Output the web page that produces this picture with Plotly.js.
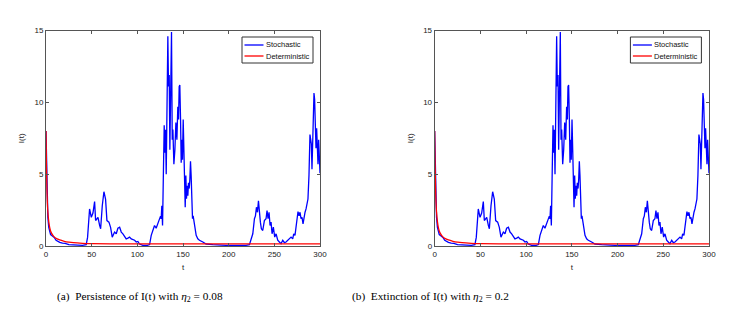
<!DOCTYPE html>
<html>
<head>
<meta charset="utf-8">
<script src="https://cdn.plot.ly/plotly-3.0.1.min.js"></script>
<style>html,body{margin:0;padding:0;background:#fff;}#chart{width:735px;height:312px;}</style>
</head>
<body>
<div id="chart"></div>
<script>
// ---- data ----
var tStoch = [0,1,2,3,4,5,7,9,11,13,15,18,21,25,30,35,40,44,45.5,
47.7,49.6,51.4,53.2,54.3,56.9,58.7,59.8,61.6,63.4,65.2,66.7,68.9,70.7,72.5,75.1,
76.9,78.7,80.6,82.4,84.2,86,87.8,89.7,91.5,93.3,95.1,97,98.8,100.6,102.4,106,
111,113.4,115.2,117,118.8,120.6,122.5,124.3,125.4,126.1,126.8,127.6,128.7,129.4,130.1,130.9,
131.6,132.7,133.4,134.1,134.9,135.6,136.7,137.4,138.2,138.9,140,141.1,142.2,143.3,144.3,145.1,
145.8,146.5,147.3,148,148.7,149.4,150.2,150.9,151.6,152.4,153.1,153.8,154.6,155.3,156,156.8,
157.5,158.2,158.9,159.7,160.4,161.1,161.8,162.9,164.4,166.2,168,171.7,175.3,182.6,190,197,
204,211.8,219,222.7,224.5,226.4,228.2,229.3,230.4,231.5,232.6,233.6,234.7,235.8,237.3,239.1,
240.9,242,243.1,244.2,245.3,246.4,247.5,248.9,250.4,251.9,253.7,255.5,257.3,259.2,261,262.8,
264.6,266.5,268.3,270.1,271.2,272.6,273.7,274.8,275.9,277,278.1,279.2,280.3,281.4,282.5,283.6,
284.7,285.8,286.8,287.9,289,289.8,290.5,291.2,292,292.7,293.4,294.1,294.9,295.6,296.3,297.1,
297.8,298.5,299.3,300];
var iStoch = [8,3.5,2.0,1.3,1.0,0.8,0.7,0.6,0.4,0.3,0.25,0.2,0.18,0.1,0.08,0.06,0.05,0.1,0.6,
2.58,2.0,2.3,3.1,1.77,2.0,1.43,1.2,2.8,3.78,3.27,1.77,1.66,1.3,0.62,0.97,
0.85,1.24,1.31,0.97,0.85,0.62,0.5,0.55,0.62,0.5,0.44,0.4,0.28,0.32,0.14,0.05,
0.05,0.1,0.74,1.08,1.43,1.24,1.66,1.89,2.07,1.9,2.8,1.43,5.8,8.4,6.5,8.1,
5.0,9.95,14.6,11.1,11.9,6.7,12.7,14.9,7.4,8.1,5.7,6.7,8.6,7.4,9.7,8.8,
11.1,11.2,8.8,5.8,7.4,6.0,8.8,6.0,4.1,2.7,4.9,3.3,4.2,3.5,4.4,4.0,
4.65,5.9,4.9,2.8,1.9,2.1,1.8,1.2,0.74,0.5,0.4,0.28,0.14,0.1,0.05,0.05,
0.05,0.03,0.05,0.1,0.4,0.85,1.9,2.1,2.7,2.35,3.15,2.1,1.66,1.2,1.08,1.77,
1.9,2.47,1.9,2.35,1.43,1.66,0.85,1.31,0.62,0.85,0.4,0.28,0.16,0.4,0.23,0.28,
0.4,0.46,0.62,0.5,0.85,0.74,1.3,1.9,2.4,2.1,2.35,1.9,2.0,1.54,2.1,2.35,
2.58,3.15,3.27,4.9,7.76,7.4,7.1,5.35,7.9,9.4,10.65,10.2,8.9,6.8,8.2,6.4,
5.7,7.4,6.3,5.07];
var tDet = [0,0.5,1,1.5,2,3,4,5,6,8,10,15,20,25,30,40,50,70,100,150,200,250,300];
var iDet = [8,5.5,4.0,3.0,2.4,1.7,1.3,1.05,0.9,0.7,0.58,0.42,0.33,0.27,0.23,0.19,0.17,0.155,0.15,0.15,0.15,0.15,0.15];
var xTicks = [0,50,100,150,200,250,300];
var yTicks = [0,5,10,15];
var seriesNames = ['Stochastic','Deterministic'];
var seriesColors = ['#0000ff','#ff0000'];
var captions = ['(a)&nbsp; Persistence of I(t) with <i>η</i><sub>2</sub> = 0.08',
                '(b)&nbsp; Extinction of I(t) with <i>η</i><sub>2</sub> = 0.2'];

// ---- traces ----
var traces = [];
[['x','y'],['x2','y2']].forEach(function(p){
  traces.push({x:tStoch,y:iStoch,xaxis:p[0],yaxis:p[1],name:seriesNames[0],showlegend:false,
    type:'scatter',mode:'lines',line:{color:seriesColors[0],width:1.3}});
  traces.push({x:tDet,y:iDet,xaxis:p[0],yaxis:p[1],name:seriesNames[1],showlegend:false,
    type:'scatter',mode:'lines',line:{color:seriesColors[1],width:1.3,shape:'spline'}});
});

var W = 735, H = 312;
var tickFont = {family:'Liberation Sans, Arial, sans-serif',size:8,color:'#222'};
function xa(domain, anchor){
  return {domain:domain,anchor:anchor,range:[0,300],tickvals:xTicks,ticks:'inside',ticklen:3,
    tickcolor:'#555',showline:true,linecolor:'#555',linewidth:1,mirror:'allticks',showgrid:false,
    zeroline:false,tickfont:tickFont,
    title:{text:'t',font:tickFont,standoff:6}};
}
function ya(domain, anchor){
  return {domain:domain,anchor:anchor,range:[0,15],tickvals:yTicks,ticks:'inside',ticklen:3,
    tickcolor:'#555',showline:true,linecolor:'#555',linewidth:1,mirror:'allticks',showgrid:false,
    zeroline:false,tickfont:tickFont,
    title:{text:'I(t)',font:tickFont,standoff:8}};
}

// ---- hand-drawn legends (box, line samples, labels) ----
var shapes = [], annotations = [];
var legFont = {family:'Liberation Sans, Arial, sans-serif',size:7.5,color:'#111'};
[0, 388.4].forEach(function(off){
  var bx0 = 242+off, bx1 = 313+off, by0 = 37, by1 = 63;
  shapes.push({type:'rect',xref:'paper',yref:'paper',x0:bx0/W,x1:bx1/W,y0:1-by1/H,y1:1-by0/H,
    line:{color:'#333',width:1},fillcolor:'#fff',layer:'above'});
  [45,56].forEach(function(ly,k){
    shapes.push({type:'line',xref:'paper',yref:'paper',x0:(244.5+off)/W,x1:(263.5+off)/W,
      y0:1-ly/H,y1:1-ly/H,line:{color:seriesColors[k],width:1.3},layer:'above'});
    annotations.push({text:seriesNames[k],xref:'paper',yref:'paper',x:(265+off)/W,y:1-ly/H,
      xanchor:'left',yanchor:'middle',showarrow:false,font:legFont,borderpad:0});
  });
});
var capFont = {family:'Liberation Serif, serif',size:11.3,color:'#000'};
annotations.push({text:captions[0],xref:'paper',yref:'paper',x:139.5/W,y:1-297/H,
  xanchor:'center',yanchor:'middle',showarrow:false,font:capFont});
annotations.push({text:captions[1],xref:'paper',yref:'paper',x:430/W,y:1-297/H,
  xanchor:'center',yanchor:'middle',showarrow:false,font:capFont});

var yd = [0.2115,0.9022];
var layout = {
  width:W,height:H,margin:{l:0,r:0,t:0,b:0},paper_bgcolor:'#fff',plot_bgcolor:'#fff',
  showlegend:false,
  xaxis:xa([0.0626,0.4354],'y'), yaxis:ya(yd,'x'),
  xaxis2:xa([0.5914,0.9646],'y2'), yaxis2:ya(yd,'x2'),
  shapes:shapes, annotations:annotations
};
Plotly.newPlot('chart',traces,layout,{staticPlot:true,displayModeBar:false});
</script>
</body>
</html>
